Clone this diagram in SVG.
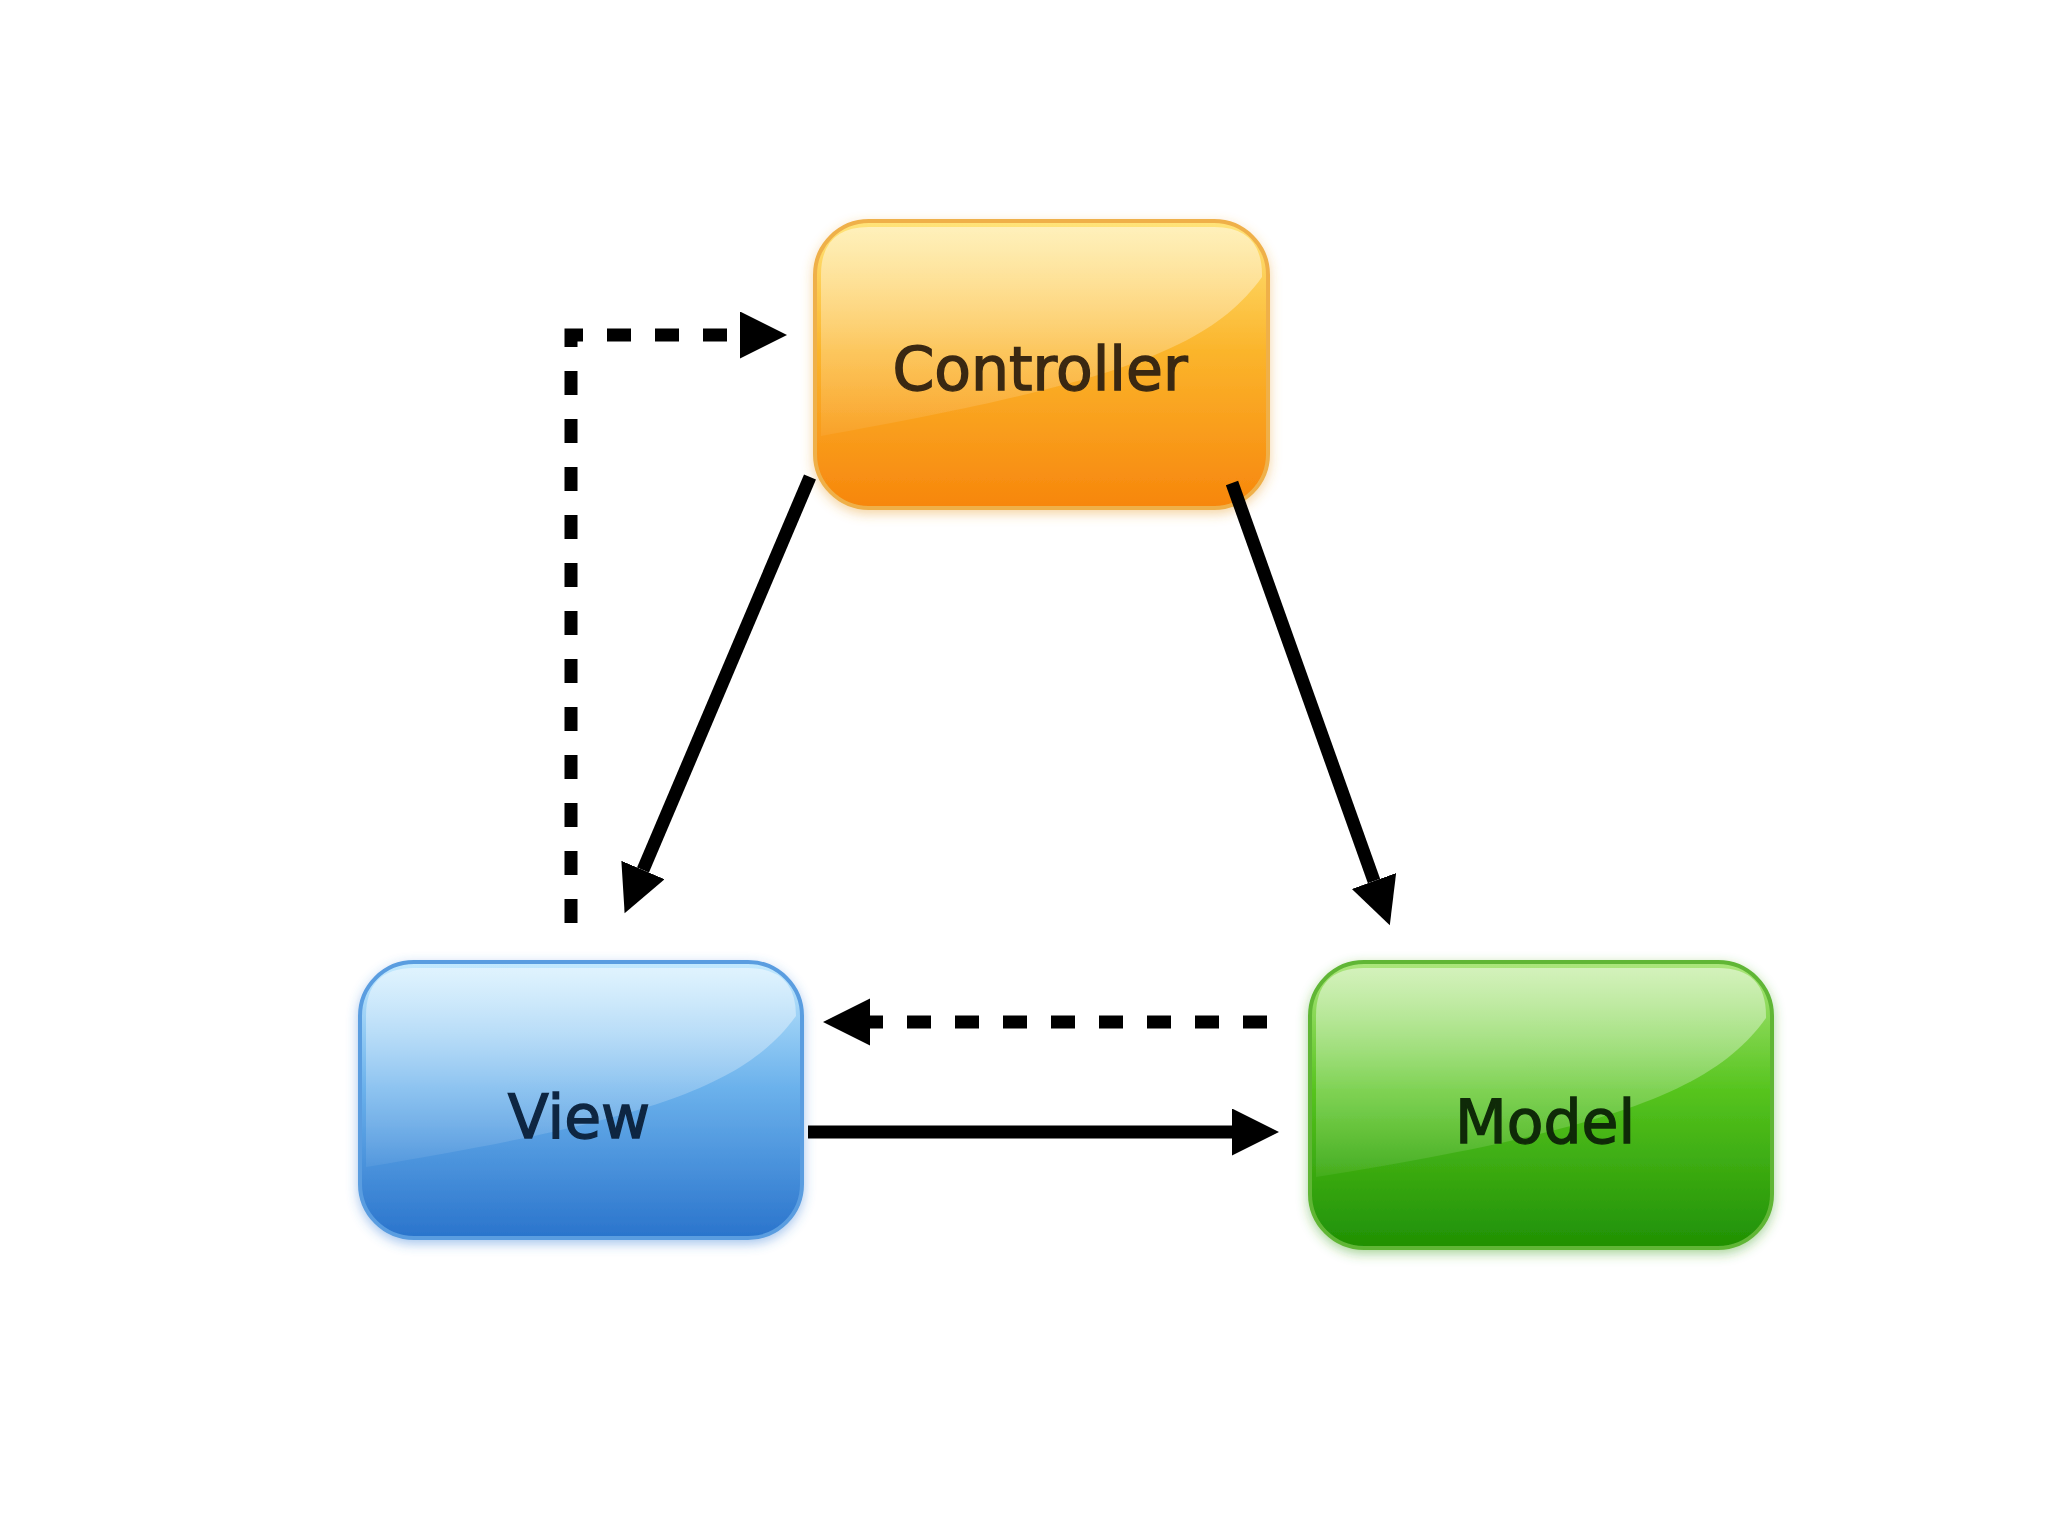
<svg xmlns="http://www.w3.org/2000/svg" width="2048" height="1536" viewBox="0 0 2048 1536">
  <defs>
    <style>
      .label { font-family: "DejaVu Sans", "Liberation Sans", sans-serif; font-size: 60px; text-anchor: middle; stroke-width: 1.4; }
      .conn { fill: none; stroke: #000; stroke-width: 13; }
      .dash { stroke-dasharray: 24 24; }
      .gloss { fill: url(#gloss); }
    </style>
    <marker id="head" markerUnits="userSpaceOnUse" markerWidth="48" markerHeight="48" refX="0" refY="23.5" orient="auto">
      <path d="M0,0 L47,23.5 L0,47 Z" fill="#000"/>
    </marker>
    <linearGradient id="gCtrl" x1="0" y1="0" x2="0" y2="1">
      <stop offset="0" stop-color="#ffe47a"/>
      <stop offset="0.45" stop-color="#fbb52c"/>
      <stop offset="1" stop-color="#f7860c"/>
    </linearGradient>
    <linearGradient id="gView" x1="0" y1="0" x2="0" y2="1">
      <stop offset="0" stop-color="#c4eafe"/>
      <stop offset="0.45" stop-color="#6cb2ec"/>
      <stop offset="1" stop-color="#2a74cc"/>
    </linearGradient>
    <linearGradient id="gModel" x1="0" y1="0" x2="0" y2="1">
      <stop offset="0" stop-color="#ace67c"/>
      <stop offset="0.45" stop-color="#56c41e"/>
      <stop offset="1" stop-color="#1f9004"/>
    </linearGradient>
    <linearGradient id="gloss" x1="0" y1="0" x2="0" y2="1">
      <stop offset="0" stop-color="#fff" stop-opacity="0.5"/>
      <stop offset="1" stop-color="#fff" stop-opacity="0.06"/>
    </linearGradient>
    <filter id="shCtrl" x="-10%" y="-10%" width="120%" height="125%">
      <feDropShadow dx="0" dy="4" stdDeviation="6" flood-color="#e8a030" flood-opacity="0.45"/>
    </filter>
    <filter id="shView" x="-10%" y="-10%" width="120%" height="125%">
      <feDropShadow dx="0" dy="4" stdDeviation="6" flood-color="#3a80d8" flood-opacity="0.45"/>
    </filter>
    <filter id="shModel" x="-10%" y="-10%" width="120%" height="125%">
      <feDropShadow dx="0" dy="4" stdDeviation="6" flood-color="#40a020" flood-opacity="0.45"/>
    </filter>
  </defs>

  <rect width="2048" height="1536" fill="#ffffff"/>

  <g id="controller" transform="translate(815,221)">
    <rect width="453" height="287" rx="54" ry="54" fill="url(#gCtrl)" stroke="#efb04a" stroke-width="4" filter="url(#shCtrl)"/>
    <path class="gloss" d="M6,215 L6,54 Q6,6 54,6 L399,6 Q447,6 447,54 L447,56 C395,128 300,162 6,215 Z"/>
    <text class="label" x="225" y="169" fill="#3a2812" stroke="#3a2812">Controller</text>
  </g>

  <g id="view" transform="translate(360,962)">
    <rect width="442" height="276" rx="54" ry="54" fill="url(#gView)" stroke="#5a9de0" stroke-width="4" filter="url(#shView)"/>
    <path class="gloss" d="M6,205 L6,54 Q6,6 54,6 L388,6 Q436,6 436,54 L436,54 C385,124 290,158 6,205 Z"/>
    <text class="label" x="219" y="176" fill="#0e2642" stroke="#0e2642">View</text>
  </g>

  <g id="model" transform="translate(1310,962)">
    <rect width="462" height="286" rx="54" ry="54" fill="url(#gModel)" stroke="#60b636" stroke-width="4" filter="url(#shModel)"/>
    <path class="gloss" d="M6,215 L6,54 Q6,6 54,6 L408,6 Q456,6 456,54 L456,56 C405,128 300,168 6,215 Z"/>
    <text class="label" x="235" y="181" fill="#0f2a08" stroke="#0f2a08">Model</text>
  </g>

  <g id="connectors">
    <path class="conn dash" d="M571,923 L571,335 L740,335" marker-end="url(#head)"/>
    <path class="conn" d="M810,477 L643,870" marker-end="url(#head)"/>
    <path class="conn" d="M1232,483 L1374,881" marker-end="url(#head)"/>
    <path class="conn dash" d="M1267,1022 L870,1022" marker-end="url(#head)"/>
    <path class="conn" d="M808,1132 L1232,1132" marker-end="url(#head)"/>
  </g>
</svg>
